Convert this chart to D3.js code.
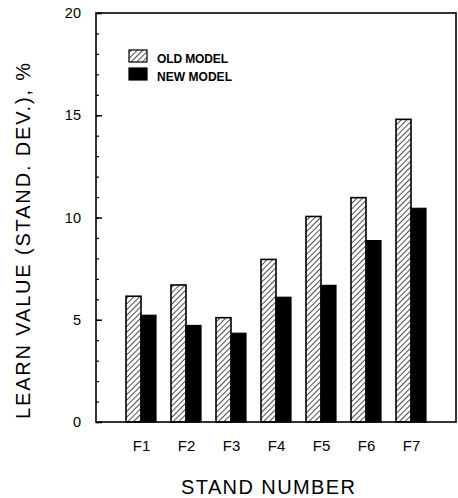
<!DOCTYPE html>
<html><head><meta charset="utf-8">
<script src="https://cdn.jsdelivr.net/npm/d3@7"></script>
<style>body{margin:0;background:#fff}svg{display:block}</style>
</head><body>
<svg id="c" width="458" height="498"></svg>
<script>
const categories = ["F1","F2","F3","F4","F5","F6","F7"];
const oldModel = [6.15, 6.7, 5.1, 7.95, 10.05, 10.97, 14.8];
const newModel = [5.22, 4.72, 4.34, 6.1, 6.68, 8.87, 10.45];
const yTicks = [0,5,10,15,20];
const seriesNames = ["OLD MODEL","NEW MODEL"];

const svg = d3.select("#c");
const font = "'Liberation Sans', Arial, Helvetica, sans-serif";
const L=96, R=456, T=13, B=422;

const defs = svg.append("defs");
const pat = defs.append("pattern").attr("id","hatch").attr("patternUnits","userSpaceOnUse")
  .attr("width",4).attr("height",4).attr("patternTransform","rotate(45)");
pat.append("rect").attr("width",4).attr("height",4).attr("fill","#fff");
pat.append("line").attr("x1",0).attr("y1",0).attr("x2",0).attr("y2",4).attr("stroke","#000").attr("stroke-width",1.4);

const x = d3.scalePoint().domain(categories).range([L,R]).padding(1);
const y = d3.scaleLinear().domain([0,20]).range([B,T]);
const bw = 15;

// bars
const g = svg.append("g");
g.selectAll(".old").data(categories).join("rect")
  .attr("x",d=>x(d)-bw).attr("width",bw)
  .attr("y",(d,i)=>y(oldModel[i])).attr("height",(d,i)=>y(0)-y(oldModel[i]))
  .attr("fill","url(#hatch)").attr("stroke","#000").attr("stroke-width",1.6);
g.selectAll(".new").data(categories).join("rect")
  .attr("x",d=>x(d)).attr("width",bw)
  .attr("y",(d,i)=>y(newModel[i])).attr("height",(d,i)=>y(0)-y(newModel[i]))
  .attr("fill","#000").attr("stroke","#000").attr("stroke-width",1.2);

// frame
svg.append("rect").attr("x",L).attr("y",T).attr("width",R-L).attr("height",B-T)
  .attr("fill","none").attr("stroke","#000").attr("stroke-width",1.6);

// y axis minor + major ticks inward
const yAxisMinor = d3.axisRight(y).tickValues(d3.range(0,21,1)).tickSize(3).tickFormat("");
const ga = svg.append("g").attr("transform",`translate(${L},0)`).call(yAxisMinor);
ga.select(".domain").remove();
ga.selectAll("line").attr("stroke","#000").attr("stroke-width",1.2);
const yAxisMajor = d3.axisRight(y).tickValues(yTicks).tickSize(6).tickFormat("");
const gm = svg.append("g").attr("transform",`translate(${L},0)`).call(yAxisMajor);
gm.select(".domain").remove();
gm.selectAll("line").attr("stroke","#000").attr("stroke-width",1.5);

// y tick labels
const yl = d3.axisLeft(y).tickValues(yTicks).tickSize(0).tickPadding(15);
const gl = svg.append("g").attr("transform",`translate(${L},0)`).call(yl);
gl.select(".domain").remove();
gl.selectAll("text").attr("font-family",font).attr("font-size",14.5).attr("fill","#000");

// x labels
const xl = d3.axisBottom(x).tickSize(0).tickPadding(18);
const gx = svg.append("g").attr("transform",`translate(0,${B})`).call(xl);
gx.select(".domain").remove();
gx.selectAll("text").attr("font-family",font).attr("font-size",15).attr("fill","#000");

// axis titles
svg.append("text").attr("x",268).attr("y",494).attr("text-anchor","middle")
  .attr("font-family",font).attr("font-size",20).attr("textLength",174).attr("lengthAdjust","spacing")
  .text("STAND NUMBER");
svg.append("text").attr("transform","translate(30,241) rotate(-90)").attr("text-anchor","middle")
  .attr("font-family",font).attr("font-size",20).attr("textLength",356).attr("lengthAdjust","spacing")
  .text("LEARN VALUE (STAND. DEV.), %");

// legend
const lg = svg.append("g");
seriesNames.forEach((s,i)=>{
  lg.append("rect").attr("x",129).attr("y",50+i*18).attr("width",18).attr("height",12)
    .attr("fill", i===0?"url(#hatch)":"#000").attr("stroke","#000").attr("stroke-width",1.2);
  lg.append("text").attr("x",157).attr("y",63+i*18).attr("font-family",font).attr("font-weight","bold")
    .attr("font-size",12).attr("textLength",i===0?71:75).attr("lengthAdjust","spacing").text(s);
});
</script>
</body></html>
